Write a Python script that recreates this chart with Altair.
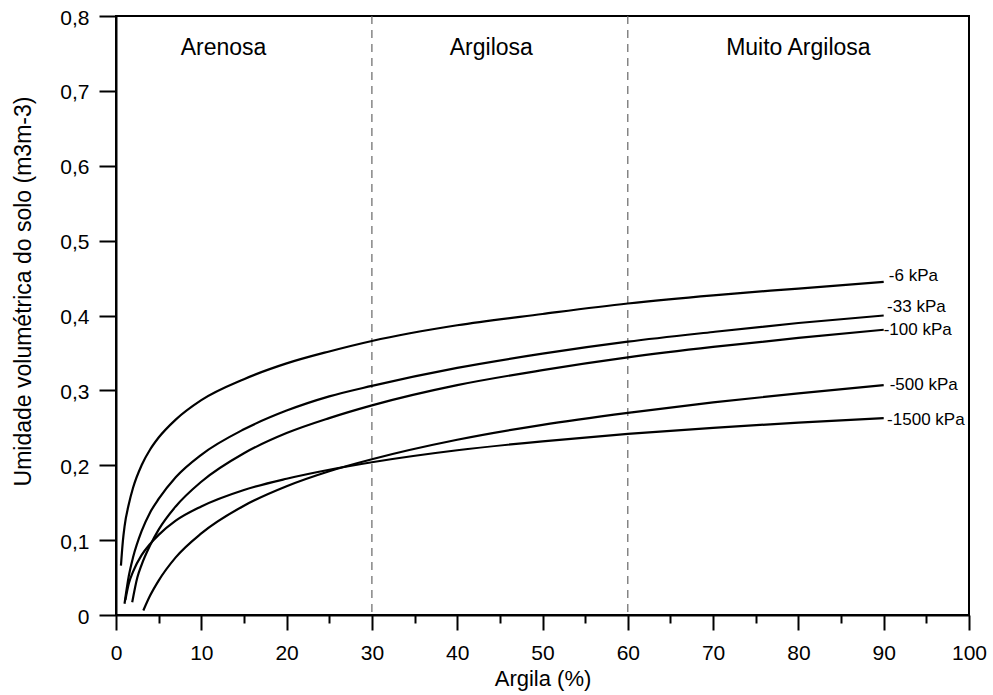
import altair as alt
import pandas as pd

# --- data ---
series_names = ["-6 kPa", "-33 kPa", "-100 kPa", "-500 kPa", "-1500 kPa"]

x_6 = [0.58, 0.8, 1, 1.5, 2, 3, 4, 5, 7, 10, 15, 20, 25, 30, 40, 50, 60, 70, 80, 90]
y_6 = [0.066, 0.098, 0.118, 0.148, 0.170, 0.200, 0.221, 0.237, 0.261, 0.287, 0.315, 0.336, 0.352, 0.366, 0.387, 0.402, 0.416, 0.427, 0.436, 0.445]

x_33 = [1.0, 1.5, 2, 3, 4, 5, 7, 10, 15, 20, 25, 30, 40, 50, 60, 70, 80, 90]
y_33 = [0.015, 0.052, 0.077, 0.112, 0.137, 0.155, 0.184, 0.214, 0.248, 0.273, 0.292, 0.306, 0.33, 0.349, 0.365, 0.378, 0.39, 0.40]

x_100 = [1.9, 2.5, 3, 4, 5, 7, 10, 15, 20, 25, 30, 40, 50, 60, 70, 80, 90]
y_100 = [0.017, 0.05, 0.067, 0.093, 0.114, 0.145, 0.178, 0.216, 0.243, 0.263, 0.28, 0.307, 0.327, 0.344, 0.358, 0.37, 0.381]

x_500 = [3.2, 4, 5, 7, 10, 15, 20, 25, 30, 40, 50, 60, 70, 80, 90]
y_500 = [0.006, 0.026, 0.046, 0.077, 0.109, 0.146, 0.172, 0.192, 0.208, 0.234, 0.254, 0.270, 0.284, 0.296, 0.307]

x_1500 = [1.1, 1.5, 2, 3, 4, 5, 7, 10, 15, 20, 25, 30, 40, 50, 60, 70, 80, 90]
y_1500 = [0.02, 0.042, 0.058, 0.08, 0.095, 0.107, 0.126, 0.145, 0.167, 0.182, 0.194, 0.204, 0.22, 0.232, 0.242, 0.250, 0.257, 0.263]

label_x = [90.6, 90.4, 90.0, 90.7, 90.4]
label_y = [0.453, 0.412, 0.381, 0.307, 0.260]

region_names = ["Arenosa", "Argilosa", "Muito Argilosa"]
region_x = [12.6, 44.0, 80.0]
region_y = [0.757, 0.757, 0.757]

divider_x = [30, 60]

x_ticks = [0, 5, 10, 15, 20, 25, 30, 35, 40, 45, 50, 55, 60, 65, 70, 75, 80, 85, 90, 95, 100]
y_ticks = [0, 0.1, 0.2, 0.3, 0.4, 0.5, 0.6, 0.7, 0.8]

# --- build tables ---
rows = []
for name, xs, ys in zip(series_names, [x_6, x_33, x_100, x_500, x_1500],
                        [y_6, y_33, y_100, y_500, y_1500]):
    for xv, yv in zip(xs, ys):
        rows.append({"series": name, "x": xv, "y": yv})
curves = pd.DataFrame(rows)
labels = pd.DataFrame({"series": series_names, "x": label_x, "y": label_y})
regions = pd.DataFrame({"name": region_names, "x": region_x, "y": region_y})
dividers = pd.DataFrame({"x": divider_x})

FONT = "Liberation Sans"

xscale = alt.Scale(domain=[0, 100], nice=False, zero=False)
yscale = alt.Scale(domain=[0, 0.8], nice=False)

xaxis = alt.Axis(
    title="Argila (%)", values=x_ticks,
    labelExpr="datum.value % 10 === 0 ? datum.label : ''",
    tickSize={"condition": {"test": "datum.value % 10 === 0", "value": 15}, "value": 8},
    labelFlush=False, labelOverlap=False, grid=False,
    domainColor="black", domainWidth=2, tickColor="black", tickWidth=2,
    labelFont=FONT, labelFontSize=21, labelColor="black", labelPadding=12,
    titleFont=FONT, titleFontSize=22, titleFontWeight="normal", titleColor="black",
    titlePadding=5,
)
yaxis = alt.Axis(
    title="Umidade volumétrica do solo (m3m-3)", values=y_ticks,
    labelExpr="datum.value == 0 ? '0' : replace(format(datum.value, '.1f'), '.', ',')",
    tickSize=17, grid=False, labelFlush=False,
    domainColor="black", domainWidth=2, tickColor="black", tickWidth=2,
    labelFont=FONT, labelFontSize=21, labelColor="black", labelPadding=10,
    labelOffset=2,
    titleFont=FONT, titleFontSize=23, titleFontWeight="normal", titleColor="black",
    titlePadding=24, titleY=275,
)

lines = alt.Chart(curves).mark_line(
    color="black", strokeWidth=2.2, interpolate="monotone"
).encode(
    x=alt.X("x:Q", scale=xscale, axis=xaxis),
    y=alt.Y("y:Q", scale=yscale, axis=yaxis),
    detail="series:N",
)

rules = alt.Chart(dividers).mark_rule(
    color="#666666", strokeWidth=1.2, strokeDash=[8, 6]
).encode(x=alt.X("x:Q", scale=xscale))

series_text = alt.Chart(labels).mark_text(
    align="left", baseline="middle", font=FONT, fontSize=17, color="black"
).encode(
    x=alt.X("x:Q", scale=xscale), y=alt.Y("y:Q", scale=yscale), text="series:N"
)

region_text = alt.Chart(regions).mark_text(
    align="center", baseline="middle", font=FONT, fontSize=23, color="black"
).encode(
    x=alt.X("x:Q", scale=xscale), y=alt.Y("y:Q", scale=yscale), text="name:N"
)

chart = alt.layer(rules, lines, series_text, region_text).properties(
    width=853, height=599,
    autosize=alt.AutoSizeParams(type="none"),
    padding={"left": 116, "top": 16, "right": 24, "bottom": 80},
    background="white",
).configure_view(stroke="black", strokeWidth=2)

chart.save("out.html", embed_options={"renderer": "svg", "actions": False})
